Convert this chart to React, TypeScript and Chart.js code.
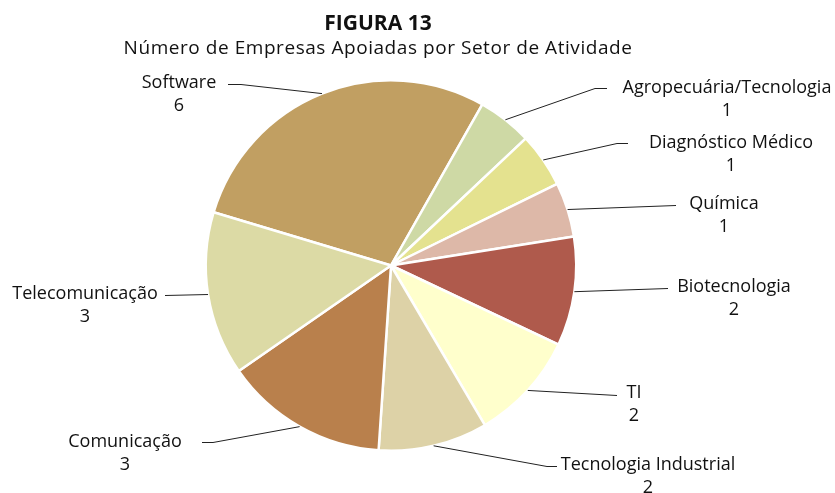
import React, { useEffect, useRef } from "react";
import { Chart, registerables } from "chart.js";

Chart.register(...registerables);

const TITLE = "FIGURA 13";
const SUBTITLE = "Número de Empresas Apoiadas por Setor de Atividade";

const categories = [
  "Software",
  "Agropecuária/Tecnologia",
  "Diagnóstico Médico",
  "Química",
  "Biotecnologia",
  "TI",
  "Tecnologia Industrial",
  "Comunicação",
  "Telecomunicação",
];

const companies = [6, 1, 1, 1, 2, 2, 2, 3, 3];

const sliceColors = [
  "#C19F62",
  "#CED9A5",
  "#E4E28F",
  "#DDB8A8",
  "#AF5A4C",
  "#FFFFCC",
  "#DDD2A7",
  "#B9804C",
  "#DCDAA5",
];

// label layout, relative to pie centre: elbow (ex,ey), end of horizontal (hx), text centre (tx,ty)
const labelLayout = [
  { ex: -150, ey: -181, hx: -163, tx: -212, ty: -183 },
  { ex: 204, ey: -177, hx: 216, tx: 336, ty: -178 },
  { ex: 226, ey: -122, hx: 237, tx: 340, ty: -123 },
  { ex: 285, ey: -60, hx: 285, tx: 333, ty: -62 },
  { ex: 277, ey: 23, hx: 277, tx: 343, ty: 21 },
  { ex: 226, ey: 130, hx: 226, tx: 243, ty: 127 },
  { ex: 156, ey: 201, hx: 166, tx: 257, ty: 199 },
  { ex: -178, ey: 177, hx: -189, tx: -266, ty: 176 },
  { ex: -226, ey: 30, hx: -226, tx: -306, ty: 28 },
];

const FONT = "'Open Sans', 'DejaVu Sans', sans-serif";

const labelPlugin = {
  id: "leaderLabels",
  afterDraw(chart: any) {
    const ctx = chart.ctx;
    const meta = chart.getDatasetMeta(0);
    ctx.save();
    // titles
    ctx.fillStyle = "#111";
    ctx.textAlign = "center";
    ctx.textBaseline = "middle";
    ctx.font = `bold 21px ${FONT}`;
    ctx.fillText(TITLE, 378, 24);
    ctx.font = `19px ${FONT}`;
    (ctx as any).letterSpacing = "0.55px";
    ctx.fillText(SUBTITLE, 378, 49);
    (ctx as any).letterSpacing = "0px";

    meta.data.forEach((arc: any, i: number) => {
      const p = arc.getProps(["x", "y", "startAngle", "endAngle", "outerRadius"], true);
      const mid = (p.startAngle + p.endAngle) / 2;
      const sx = p.x + Math.cos(mid) * p.outerRadius;
      const sy = p.y + Math.sin(mid) * p.outerRadius;
      const L = labelLayout[i];
      ctx.strokeStyle = "#222";
      ctx.lineWidth = 1;
      ctx.beginPath();
      ctx.moveTo(sx, sy);
      ctx.lineTo(p.x + L.ex, p.y + L.ey);
      ctx.lineTo(p.x + L.hx, p.y + L.ey);
      ctx.stroke();
      ctx.fillStyle = "#111";
      ctx.font = `18px ${FONT}`;
      ctx.textAlign = "center";
      ctx.textBaseline = "middle";
      ctx.fillText(categories[i], p.x + L.tx, p.y + L.ty);
      ctx.fillText(String(companies[i]), p.x + L.tx, p.y + L.ty + 23);
    });
    ctx.restore();
  },
};

export default function App() {
  const ref = useRef<HTMLCanvasElement>(null);
  useEffect(() => {
    document.body.style.margin = "0";
    const chart = new Chart(ref.current!, {
      type: "pie",
      data: {
        labels: categories,
        datasets: [
          {
            data: companies,
            backgroundColor: sliceColors,
            borderColor: "#FFFFFF",
            borderWidth: 2.5,
          },
        ],
      },
      options: {
        animation: false,
        responsive: false,
        rotation: -73.3,
        layout: { padding: { top: 79, bottom: 41, left: 204.5, right: 257.5 } },
        plugins: { legend: { display: false }, tooltip: { enabled: false } },
      },
      plugins: [labelPlugin],
    });
    return () => chart.destroy();
  }, []);
  return (
    <div style={{ width: 835, height: 493, background: "#fff" }}>
      <canvas ref={ref} width={835} height={493} />
    </div>
  );
}
